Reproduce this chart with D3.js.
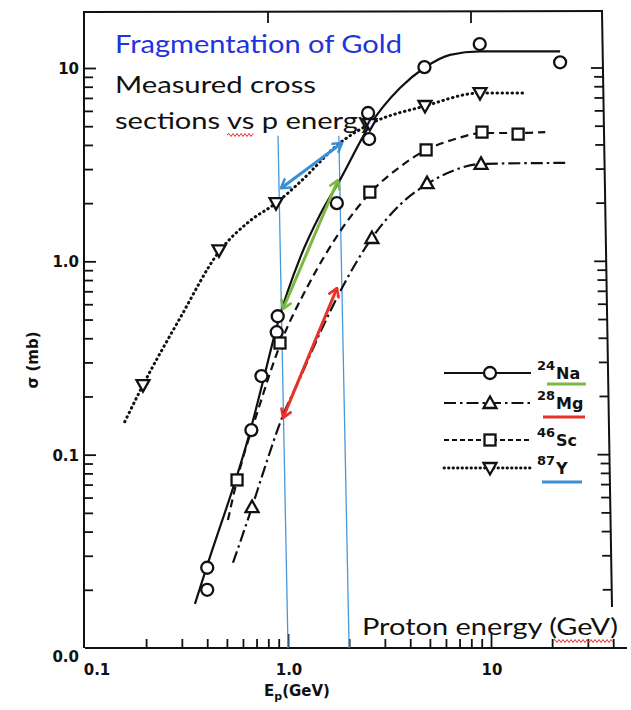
<!DOCTYPE html>
<html><head><meta charset="utf-8">
<script src="https://cdn.jsdelivr.net/npm/d3@7"></script>
<style>body{margin:0;background:#fff}svg{display:block}</style>
</head><body><svg id="c" width="631" height="710"></svg>
<script>
// ---------------- data ----------------
// 24Na : circles
const naE = [0.40, 0.40, 0.66, 0.74, 0.88, 0.89, 1.74, 2.48, 2.51, 4.7, 8.8, 21.9];
const naS = [0.026, 0.020, 0.134, 0.255, 0.43, 0.52, 2.0, 5.85, 4.29, 10.1, 13.3, 10.7];
const naCurveE = [0.348, 0.399, 0.657, 0.745, 0.893, 1.146, 1.437, 1.80, 2.53, 3.56, 4.68, 6.28, 8.83, 21.9];
const naCurveS = [0.0169, 0.0265, 0.137, 0.229, 0.485, 1.04, 1.74, 2.63, 5.07, 7.88, 10.0, 11.7, 12.2, 12.2];
// 28Mg : up triangles
const mgE = [0.665, 2.59, 4.84, 8.93];
const mgS = [0.0536, 1.32, 2.54, 3.19];
const mgCurveE = [0.536, 0.665, 0.770, 0.934, 1.146, 1.437, 1.845, 2.59, 3.56, 4.84, 6.65, 8.93, 23.2];
const mgCurveS = [0.0276, 0.0536, 0.0863, 0.155, 0.249, 0.426, 0.728, 1.32, 1.96, 2.51, 2.97, 3.19, 3.23];
// 46Sc : squares
const scE = [0.561, 0.913, 2.53, 4.79, 9.03, 13.6];
const scS = [0.074, 0.378, 2.28, 3.77, 4.66, 4.55];
const scCurveE = [0.506, 0.561, 0.712, 0.913, 1.283, 1.80, 2.53, 3.56, 4.79, 6.65, 9.03, 13.6, 18.5];
const scCurveS = [0.0459, 0.074, 0.170, 0.369, 0.782, 1.42, 2.25, 3.08, 3.77, 4.29, 4.61, 4.61, 4.66];
// 87Y : down triangles
const yE = [0.193, 0.457, 0.873, 2.53, 4.73, 8.83];
const yS = [0.229, 1.14, 2.0, 5.13, 6.36, 7.42];
const yCurveE = [0.157, 0.193, 0.294, 0.457, 0.650, 0.873, 1.146, 1.80, 2.53, 4.73, 8.83, 14.7];
const yCurveS = [0.148, 0.229, 0.509, 1.12, 1.62, 2.0, 2.57, 4.09, 5.13, 6.36, 7.42, 7.42];

// axis ticks
const xMinorTicks = [0.2,0.3,0.4,0.5,0.6,0.7,0.8,0.9,2,3,4,5,6,7,8,9,20,30,40];
const xMajorTicks = [1, 10];
const xTickLabels = [["0.1",0.1],["1.0",1],["10",10]];
const yMinorTicks = [0.02,0.03,0.04,0.05,0.06,0.07,0.08,0.09,0.2,0.3,0.4,0.5,0.6,0.7,0.8,0.9,2,3,4,5,6,7,8,9];
const yMajorTicks = [0.1, 1, 10];
const yTickLabels = [["10",10],["1.0",1],["0.1",0.1],["0.0",0.0095]];

// annotation: vertical guide lines (energy at top, sigma at top) -> (energy, bottom)
const guideLines = [[0.893, 4.46, 1.0, 0.01],[1.78, 4.46, 2.0, 0.01]];
// double arrows [E1,S1,E2,S2,color]
const arrows = [
  [0.924, 2.39, 1.845, 4.09, "#3b8fd5"],
  [1.763, 2.63, 0.945, 0.567, "#7cb943"],
  [1.743, 0.727, 0.945, 0.155, "#e5322b"]
];

// ---------------- scales ----------------
const svg = d3.select("#c");
const x = d3.scaleLog().domain([0.1, 10]).range([85, 491]);
const y = d3.scaleLog().domain([0.01, 10]).range([648, 68]);
const FONT = "'DejaVu Sans', sans-serif";
svg.append("rect").attr("width",631).attr("height",710).attr("fill","#fff");

// ---------------- frame ----------------
const frame = svg.append("g").attr("stroke","#111").attr("fill","none");
frame.append("line").attr("x1",84).attr("x2",84).attr("y1",12).attr("y2",y(0.01)).attr("stroke-width",2);
frame.append("line").attr("x1",x(0.1)).attr("x2",627).attr("y1",y(0.01)).attr("y2",y(0.01)).attr("stroke-width",2);
frame.append("line").attr("x1",83).attr("x2",603).attr("y1",12).attr("y2",11).attr("stroke-width",2);
const rightX = yy => 602 + (yy-12)/595*10;
frame.append("line").attr("x1",rightX(11)).attr("x2",rightX(607)).attr("y1",11).attr("y2",607).attr("stroke-width",2);

function bottomTicks(vals, len){
  const g = svg.append("g").attr("transform",`translate(0,${y(0.01)})`)
    .call(d3.axisBottom(x).tickValues(vals).tickSize(-len).tickSizeOuter(0).tickFormat(""));
  g.select(".domain").remove();
  g.selectAll("line").attr("stroke","#111").attr("stroke-width",1.8);
}
bottomTicks(xMinorTicks, 9);
bottomTicks(xMajorTicks, 14);
function leftTicks(vals, len){
  const g = svg.append("g").attr("transform",`translate(84,0)`)
    .call(d3.axisLeft(y).tickValues(vals).tickSize(-len).tickSizeOuter(0).tickFormat(""));
  g.select(".domain").remove();
  g.selectAll("line").attr("stroke","#111").attr("stroke-width",1.8);
}
leftTicks(yMinorTicks, 9);
leftTicks(yMajorTicks, 12);
const rt = svg.append("g").attr("stroke","#111").attr("stroke-width",1.8);
yMinorTicks.concat(yMajorTicks).filter(v => y(v) < 607).forEach(v => {
  const yy = y(v), len = yMajorTicks.includes(v) ? 12 : 9;
  rt.append("line").attr("x1",rightX(yy)).attr("x2",rightX(yy)-len).attr("y1",yy).attr("y2",yy);
});
[1,10].forEach(v => {
  svg.append("line").attr("x1",x(v)-20).attr("x2",x(v)-20).attr("y1",11).attr("y2",23)
    .attr("stroke","#111").attr("stroke-width",1.8);
});

// tick labels
const tl = svg.append("g").attr("font-family",FONT).attr("font-weight","bold").attr("font-size",15).attr("fill","#111");
xTickLabels.forEach(([t,v]) => {
  tl.append("text").attr("x", v===0.1 ? x(v)+12 : x(v)+1).attr("y",675).attr("text-anchor","middle").text(t);
});
yTickLabels.forEach(([t,v]) => {
  tl.append("text").attr("x",79).attr("y",(v<0.01? 662 : y(v)+6)).attr("text-anchor","end").text(t);
});
const xt = svg.append("text").attr("x",297).attr("y",696).attr("text-anchor","middle")
  .attr("font-family",FONT).attr("font-weight","bold").attr("font-size",15).attr("fill","#111");
xt.append("tspan").text("E");
xt.append("tspan").attr("font-size",11).attr("dy",4).text("p");
xt.append("tspan").attr("dy",-4).text("(GeV)");
svg.append("text").attr("transform","translate(38,360) rotate(-90)").attr("text-anchor","middle")
  .attr("font-family",FONT).attr("font-weight","bold").attr("font-size",15).attr("fill","#111").text("σ (mb)");

// ---------------- blue guide lines ----------------
guideLines.forEach(([e1,s1,e2,s2]) => {
  svg.append("line").attr("x1",x(e1)).attr("y1",y(s1)).attr("x2",x(e2)).attr("y2",y(s2))
    .attr("stroke","#4a98dc").attr("stroke-width",1.3);
});

// ---------------- curves ----------------
const line = d3.line().x(d => x(d[0])).y(d => y(d[1])).curve(d3.curveMonotoneX);
const zip = (a,b) => a.map((v,i) => [v,b[i]]);
const series = [
  {e:naCurveE, s:naCurveS, dash:null, cap:"butt", w:2.2, pe:naE, ps:naS, sym:"circle"},
  {e:mgCurveE, s:mgCurveS, dash:"12,4,2.5,4", cap:"butt", w:2.2, pe:mgE, ps:mgS, sym:"up"},
  {e:scCurveE, s:scCurveS, dash:"8,5", cap:"butt", w:2.2, pe:scE, ps:scS, sym:"square"},
  {e:yCurveE, s:yCurveS, dash:"0.5,4.5", cap:"round", w:3, pe:yE, ps:yS, sym:"down"}
];
series.forEach(sr => {
  svg.append("path").attr("d", line(zip(sr.e, sr.s))).attr("fill","none").attr("stroke","#111")
    .attr("stroke-width",sr.w).attr("stroke-linecap",sr.cap).attr("stroke-dasharray", sr.dash);
});
function drawSym(g, type, cx, cy){
  const st = {fill:"#fff", stroke:"#111", "stroke-width":2.3};
  let el;
  if (type==="circle") el = g.append("circle").attr("cx",cx).attr("cy",cy).attr("r",6);
  else if (type==="square") el = g.append("rect").attr("x",cx-5.5).attr("y",cy-5.5).attr("width",11).attr("height",11);
  else if (type==="up") el = g.append("path").attr("d",`M${cx},${cy-6.5}L${cx+6.5},${cy+5}L${cx-6.5},${cy+5}Z`);
  else el = g.append("path").attr("d",`M${cx},${cy+6.5}L${cx+6.5},${cy-5}L${cx-6.5},${cy-5}Z`);
  Object.entries(st).forEach(([k,v]) => el.attr(k,v));
}
const pts = svg.append("g");
series.forEach(sr => sr.pe.forEach((e,i) => drawSym(pts, sr.sym, x(e), y(sr.ps[i]))));

// ---------------- arrows ----------------
const defs = svg.append("defs");
arrows.forEach(([e1,s1,e2,s2,col],i) => {
  defs.append("marker").attr("id","ah"+i).attr("viewBox","0 0 14 14").attr("refX",11).attr("refY",7)
    .attr("markerWidth",14).attr("markerHeight",14).attr("markerUnits","userSpaceOnUse").attr("orient","auto-start-reverse")
    .append("path").attr("d","M3,2 L11,7 L3,12").attr("fill","none").attr("stroke",col).attr("stroke-width",2.6)
    .attr("stroke-linecap","round").attr("stroke-linejoin","round");
  svg.append("line").attr("x1",x(e1)).attr("y1",y(s1)).attr("x2",x(e2)).attr("y2",y(s2))
    .attr("stroke",col).attr("stroke-width",3).attr("marker-start",`url(#ah${i})`).attr("marker-end",`url(#ah${i})`);
});

// ---------------- legend ----------------
const legend = [
  {mass:"24", el:"Na", dash:null, cap:"butt", sym:"circle", ly:373, ul:"#7cb943", ulx:[547,586], uly:384},
  {mass:"28", el:"Mg", dash:"12,4,2.5,4", cap:"butt", sym:"up", ly:403, ul:"#e5322b", ulx:[543,585], uly:417},
  {mass:"46", el:"Sc", dash:"5,3", cap:"butt", sym:"square", ly:440, ul:null},
  {mass:"87", el:"Y", dash:"0.5,4", cap:"round", sym:"down", ly:468, ul:"#3b8fd5", ulx:[542,582], uly:482}
];
const lg = svg.append("g");
legend.forEach(d => {
  lg.append("line").attr("x1",444).attr("x2",531).attr("y1",d.ly).attr("y2",d.ly).attr("stroke","#111")
    .attr("stroke-width",d.cap==="round"?2.8:2).attr("stroke-linecap",d.cap).attr("stroke-dasharray",d.dash);
  drawSym(lg, d.sym, 490, d.ly);
  const t = lg.append("text").attr("x",537).attr("y",d.ly+6).attr("font-family",FONT).attr("font-weight","bold").attr("fill","#111");
  t.append("tspan").attr("font-size",13).attr("dy",-9).text(d.mass);
  t.append("tspan").attr("font-size",16).attr("dy",9).attr("dx",1).text(d.el);
  if (d.ul) lg.append("line").attr("x1",d.ulx[0]).attr("x2",d.ulx[1]).attr("y1",d.uly).attr("y2",d.uly)
    .attr("stroke",d.ul).attr("stroke-width",3);
});

// ---------------- overlay texts ----------------
const ov = svg.append("g").attr("font-family","Lato, 'Open Sans', sans-serif");
ov.append("text").attr("x",115).attr("y",53).attr("font-size",25).attr("fill","#2233dd")
  .attr("textLength",287).attr("lengthAdjust","spacingAndGlyphs").text("Fragmentation of Gold");
ov.append("text").attr("x",115).attr("y",93).attr("font-size",24).attr("fill","#111")
  .attr("textLength",201).attr("lengthAdjust","spacingAndGlyphs").text("Measured cross");
ov.append("text").attr("x",115).attr("y",129).attr("font-size",24).attr("fill","#111")
  .attr("textLength",258).attr("lengthAdjust","spacingAndGlyphs").text("sections vs p energy");
ov.append("text").attr("x",362).attr("y",635).attr("font-size",24).attr("fill","#111")
  .attr("textLength",256).attr("lengthAdjust","spacingAndGlyphs").text("Proton energy (GeV)");
function wave(x0, x1, yy){
  let d = `M${x0},${yy}`, up = true;
  for (let xx = x0+2; xx <= x1; xx += 2){ d += `L${xx},${yy + (up ? -1.5 : 1.5)}`; up = !up; }
  svg.append("path").attr("d",d).attr("fill","none").attr("stroke","#e03030").attr("stroke-width",1);
}
wave(227, 253, 135);
wave(553, 613, 641);
</script></body></html>
